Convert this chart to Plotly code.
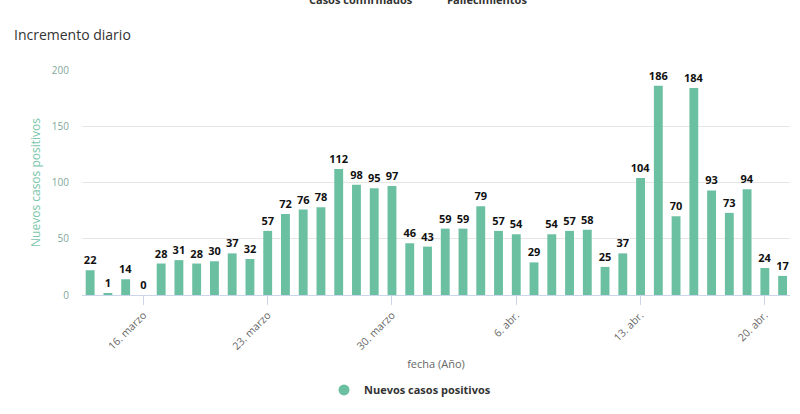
import plotly.graph_objects as go
import pandas as pd

dates = pd.date_range("2020-03-13", "2020-04-21", freq="D")
values = [22, 1, 14, 0, 28, 31, 28, 30, 37, 32, 57, 72, 76, 78, 112, 98, 95, 97, 46, 43,
          59, 59, 79, 57, 54, 29, 54, 57, 58, 25, 37, 104, 186, 70, 184, 93, 73, 94, 24, 17]
tick_dates = ["2020-03-16", "2020-03-23", "2020-03-30", "2020-04-06", "2020-04-13", "2020-04-20"]
tick_labels = ["16. marzo", "23. marzo", "30. marzo", "6. abr.", "13. abr.", "20. abr."]
y_ticks = [0, 50, 100, 150, 200]
series_name = "Nuevos casos positivos"

BAR = "#6cc0a2"
FONT = "Open Sans"

T, B = 70, 114
PH = 414 - T - B

fig = go.Figure()
fig.add_trace(go.Bar(
    x=dates, y=values, name=series_name, marker_color=BAR, marker_line_width=0,
    width=0.5 * 86400000,
    texttemplate="<b>%{y}</b>", textposition="outside", cliponaxis=False,
    constraintext="none",
    textfont=dict(family=FONT, size=11, color="#111"),
    showlegend=False,
))
fig.add_trace(go.Scatter(
    x=[None], y=[None], mode="markers", name=series_name,
    marker=dict(symbol="circle", size=11, color=BAR),
))

fig.update_layout(
    width=800, height=414,
    margin=dict(l=82, r=10, t=T, b=B),
    paper_bgcolor="white", plot_bgcolor="white",
    font=dict(family=FONT, color="#333"),
    title=dict(text="Incremento diario", x=14 / 800, xanchor="left", y=1 - 35 / 414, yanchor="middle",
               font=dict(family=FONT, size=14, color="#333")),
    showlegend=True,
    legend=dict(orientation="h", x=(410 - 82) / 708, xanchor="center", y=-(397 - (414 - B)) / PH, yanchor="middle",
                font=dict(family=FONT, size=11, color="#333", weight="bold"),
                itemwidth=30),
    bargap=0.5,
)
fig.update_xaxes(
    type="date",
    range=[pd.Timestamp("2020-03-13") - pd.Timedelta(hours=11), pd.Timestamp("2020-04-21") + pd.Timedelta(hours=10)],
    tickvals=tick_dates, ticktext=tick_labels, tickangle=-45,
    ticks="outside", ticklen=9, tickcolor="#ccd6eb",
    showline=True, linecolor="#ccd6eb", showgrid=False,
    tickfont=dict(family=FONT, size=10.5, color="#666"),
    title=dict(text="fecha (Año)", font=dict(family=FONT, size=11, color="#666"), standoff=8),
)
fig.update_yaxes(
    range=[0, 200], tickvals=y_ticks,
    showgrid=True, gridcolor="#e6e6e6", zeroline=False, showline=False,
    tickfont=dict(family=FONT, size=10, color="#7fa89a"),
    ticklabelstandoff=12,
    title=dict(text=series_name, font=dict(family=FONT, size=12, color="#7cc6ac"), standoff=8),
)

fig.add_annotation(text="<b>Casos confirmados</b>", xref="paper", yref="paper", x=(361 - 82) / 708, y=1,
                   yshift=71, showarrow=False, xanchor="center", yanchor="middle",
                   font=dict(family=FONT, size=11, color="#333"))
fig.add_annotation(text="<b>Fallecimientos</b>", xref="paper", yref="paper", x=(487 - 82) / 708, y=1,
                   yshift=71, showarrow=False, xanchor="center", yanchor="middle",
                   font=dict(family=FONT, size=11, color="#333"))

fig.write_html("out.html", config={"displayModeBar": False},
               post_script="document.body.style.margin='0';document.body.style.overflow='hidden';")
